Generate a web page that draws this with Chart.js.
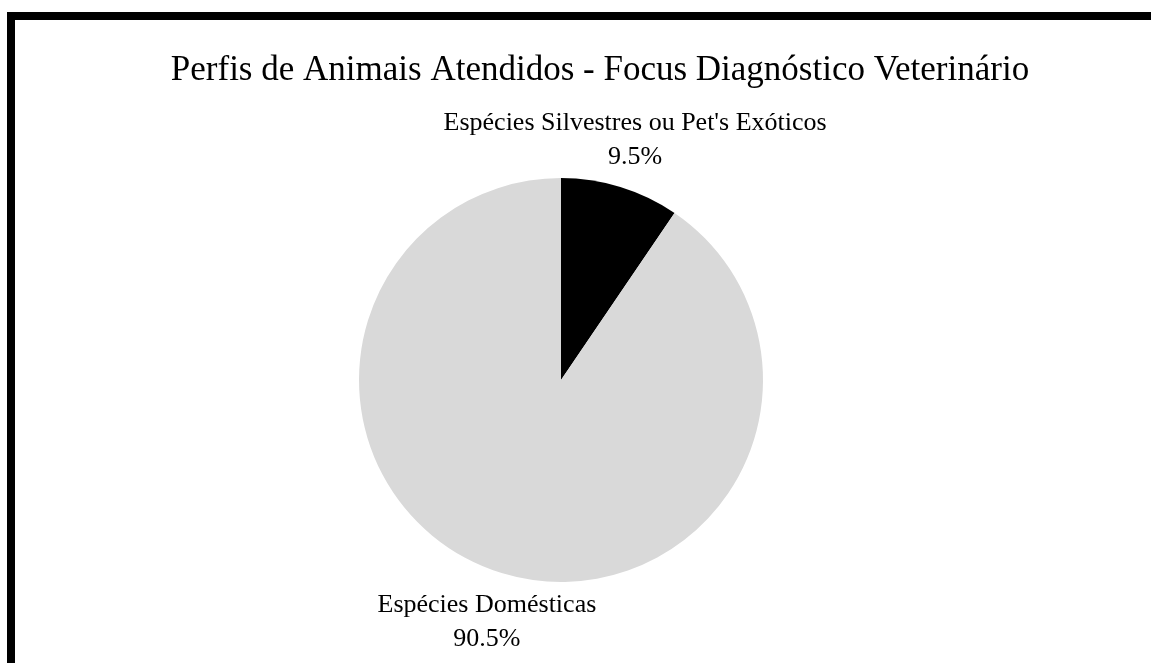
<!DOCTYPE html>
<html>
<head>
<meta charset="utf-8">
<script src="https://cdn.jsdelivr.net/npm/chart.js@4"></script>
<style>
  html, body { margin: 0; padding: 0; background: #fff; overflow: hidden; }
  #frame {
    position: absolute; left: 7px; top: 12px;
    width: 1300px; height: 800px;
    border-left: 8px solid #000; border-top: 8px solid #000;
  }
  #wrap { position: absolute; left: 15px; top: 20px; width: 1170px; height: 643px; }
</style>
</head>
<body>
<div id="frame"></div>
<div id="wrap"><canvas id="chart" width="1170" height="643"></canvas></div>
<script>
var titulo = "Perfis de Animais Atendidos - Focus Diagnóstico Veterinário";
var categorias = ["Espécies Silvestres ou Pet's Exóticos", "Espécies Domésticas"];
var valores = [9.5, 90.5];
var cores = ["#000000", "#d9d9d9"];

var fonte = "'Liberation Serif', 'Times New Roman', serif";

// título centrado no canvas e rótulos fora da pizza, no ângulo médio de cada fatia
var rotulos = {
  id: 'rotulos',
  afterDatasetsDraw: function(chart){
    var ctx = chart.ctx;
    var meta = chart.getDatasetMeta(0);
    var total = valores.reduce(function(a, b){ return a + b; }, 0);
    ctx.save();
    ctx.fillStyle = "#000";
    ctx.textAlign = "center";
    ctx.textBaseline = "alphabetic";
    ctx.font = "35px " + fonte;
    ctx.fillText(titulo, chart.width / 2, 59.5);

    ctx.font = "26px " + fonte;
    meta.data.forEach(function(arc, i){
      var p = arc.getProps(['x', 'y', 'startAngle', 'endAngle', 'outerRadius'], true);
      var ang = (p.startAngle + p.endAngle) / 2;
      var r = p.outerRadius + 50;
      var cx = p.x + Math.cos(ang) * r;
      var cy = p.y + Math.sin(ang) * r;
      var pct = (valores[i] / total * 100).toFixed(1) + "%";
      ctx.fillText(categorias[i], cx, cy - 9);
      ctx.fillText(pct, cx, cy + 25);
    });
    ctx.restore();
  }
};

var canvas = document.getElementById('chart').getContext('2d');
window.pizza = new Chart(canvas, {
  type: 'pie',
  data: {
    labels: categorias,
    datasets: [{ data: valores, backgroundColor: cores, borderWidth: 0 }]
  },
  options: {
    responsive: false,
    animation: false,
    layout: { padding: { top: 158, left: 300, right: 378, bottom: 81 } },
    plugins: {
      legend: { display: false },
      tooltip: { enabled: false },
      title: { display: false }
    }
  },
  plugins: [rotulos]
});
</script>
</body>
</html>
